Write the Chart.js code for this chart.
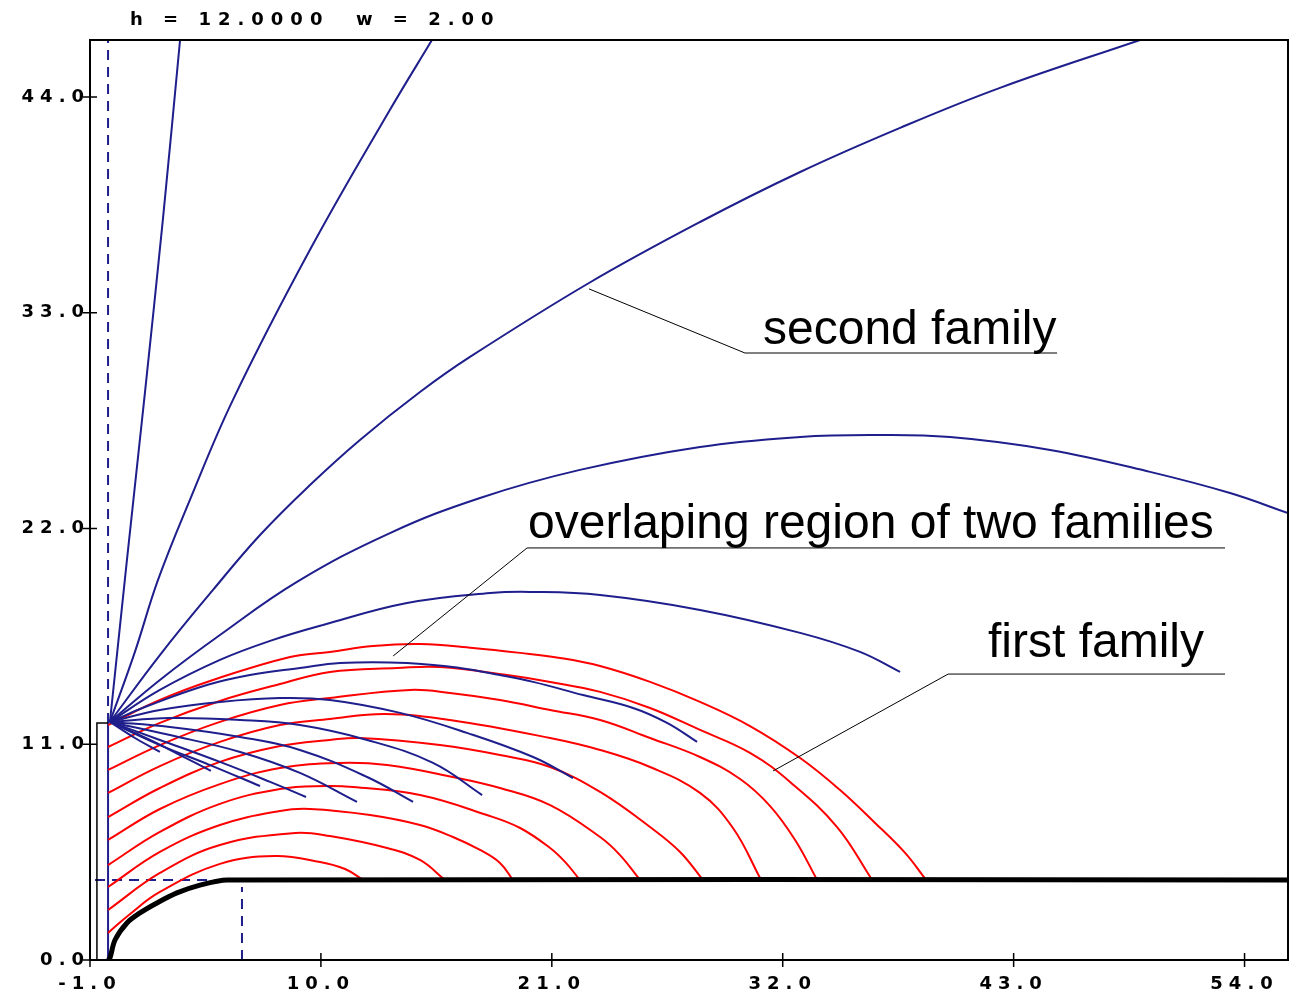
<!DOCTYPE html>
<html>
<head>
<meta charset="utf-8">
<title>Two families of trajectories</title>
<script src="https://cdn.jsdelivr.net/npm/chart.js@4.4.1/dist/chart.umd.min.js"></script>
<style>
  html, body { margin: 0; padding: 0; background: #fff; }
  canvas { display: block; }
</style>
</head>
<body>
<canvas id="plot" width="1291" height="999"></canvas>
<script>
// axis ranges and ticks
const xRange = [-1, 56.07];
const yRange = [0, 46.91];
const xTicks = [-1, 10, 21, 32, 43, 54];
const yTicks = [0, 11, 22, 33, 44];

const towerHeight = 12.0;
const stepWidth = 2.0;

// tower outline and guide lines
const tower = [[-0.67, 0], [-0.67, 12.09], [-0.14, 12.09]];
const wallLine = [[-0.14, 0], [-0.14, 12.09]];
const wallDashed = [[-0.14, 12.09], [-0.14, 46.91]];
const levelDashed = [[-0.76, 4.08], [5.6, 4.08]];
const levelFoot = [[6.24, 0], [6.24, 3.72]];

// ground profile (thick black)
const ground = [[-0.14, 0], [-0.05, 0.1], [0.19, 1.02], [0.76, 1.89], [1.38, 2.40], [2.19, 2.91],
  [3.14, 3.42], [4.24, 3.82], [5.53, 4.08], [56.07, 4.08]];

// first family (red)
const red1 = [[-0.14, 11.98], [2.33, 13.26], [4.86, 14.28], [8.53, 15.45], [10.43, 15.71], [12.48, 16.01],
  [14.72, 16.11], [17.25, 15.91], [19.49, 15.66], [21.39, 15.40], [23.30, 14.99], [25.68, 14.18],
  [28.06, 13.16], [30.44, 11.93], [32.83, 10.30], [34.73, 8.67], [36.40, 6.99], [37.83, 5.46], [38.83, 4.08]];
const red2 = [[-0.14, 10.86], [2.33, 12.09], [5.19, 13.21], [8.05, 14.07], [10.43, 14.69], [13.63, 14.89],
  [15.67, 14.94], [18.87, 14.53], [20.92, 14.18], [23.30, 13.67], [25.68, 12.85], [28.06, 11.73],
  [30.44, 10.56], [32.35, 9.08], [34.59, 6.78], [36.26, 4.08]];
const red3 = [[-0.14, 9.69], [2.33, 10.96], [5.19, 12.14], [8.05, 13.00], [10.43, 13.36], [14.25, 13.77],
  [16.15, 13.62], [18.53, 13.26], [20.92, 12.75], [23.30, 12.24], [25.68, 11.32], [28.06, 10.35],
  [29.97, 9.23], [31.40, 7.85], [32.59, 6.12], [33.64, 4.08]];
const red4 = [[-0.14, 8.52], [2.33, 9.89], [5.19, 11.12], [8.05, 11.98], [10.43, 12.29], [13.05, 12.54],
  [16.15, 12.24], [20.92, 11.32], [23.30, 10.71], [25.68, 9.84], [28.06, 8.52], [29.63, 6.73], [30.97, 4.08]];
const red5 = [[-0.14, 7.29], [2.33, 8.77], [5.19, 10.10], [8.05, 10.91], [10.43, 11.22], [11.86, 11.32],
  [15.67, 10.96], [18.53, 10.45], [20.92, 9.84], [23.30, 8.57], [25.68, 6.78], [27.11, 5.51], [28.20, 4.08]];
const red6 = [[-0.14, 6.12], [2.33, 7.70], [5.19, 8.97], [8.05, 9.79], [10.91, 10.05], [13.15, 9.94],
  [16.29, 9.33], [18.53, 8.77], [20.92, 7.90], [23.30, 6.27], [24.25, 5.35], [25.20, 4.08]];
const red7 = [[-0.14, 4.84], [2.33, 6.53], [5.19, 7.96], [8.05, 8.72], [10.20, 8.87], [11.53, 8.82],
  [14.72, 8.41], [17.91, 7.39], [19.49, 6.73], [20.92, 5.71], [21.63, 5.00], [22.34, 4.08]];
const red8 = [[-0.14, 3.72], [2.33, 5.51], [5.19, 6.88], [8.05, 7.60], [9.48, 7.70], [12.34, 7.39],
  [14.72, 6.88], [16.29, 6.27], [17.58, 5.61], [18.53, 4.95], [19.15, 4.08]];
const red9 = [[-0.14, 2.55], [2.33, 4.44], [5.19, 5.86], [8.77, 6.48], [10.43, 6.32], [13.15, 5.71],
  [14.72, 5.10], [15.91, 4.08]];
const red10 = [[-0.14, 1.38], [0.91, 2.35], [2.33, 3.47], [5.19, 4.90], [7.81, 5.30], [9.96, 5.00],
  [11.15, 4.64], [12.01, 4.08]];
const firstFamily = [red1, red2, red3, red4, red5, red6, red7, red8, red9, red10];

// second family (blue), all leaving the top of the tower
const blue1 = [[-0.05, 12.14], [0.76, 20.40], [1.62, 28.96], [2.48, 37.84], [3.29, 46.91]];
const blue2 = [[-0.05, 12.14], [1.14, 15.71], [2.24, 19.38], [3.76, 23.46], [5.81, 28.56], [9.48, 36.21],
  [13.29, 43.35], [15.29, 46.91]];
const blue3 = [[-0.05, 12.14], [2.33, 15.55], [4.86, 18.87], [7.10, 21.67], [9.48, 24.22], [11.86, 26.52],
  [14.72, 28.96], [17.10, 30.75], [22.77, 34.52], [28.06, 37.63], [32.83, 40.18],
  [37.59, 42.43], [42.35, 44.47], [49.02, 46.91]];
const blue4 = [[-0.05, 12.14], [2.33, 14.28], [5.19, 16.57], [8.86, 19.28], [13.29, 21.77], [17.58, 23.56],
  [22.34, 24.99], [28.06, 26.16], [32.83, 26.67], [36.16, 26.77], [39.97, 26.67], [44.74, 26.01],
  [49.50, 24.89], [53.31, 23.81], [56.07, 22.79]];
const blue5 = [[-0.05, 12.14], [2.33, 13.77], [5.19, 15.30], [7.58, 16.27], [10.10, 17.08], [14.10, 18.20],
  [18.06, 18.71], [19.96, 18.77], [23.30, 18.61], [28.06, 17.85], [32.83, 16.68], [35.68, 15.71], [37.59, 14.69]];
const blue6 = [[-0.05, 12.14], [1.86, 13.00], [4.57, 14.02], [6.62, 14.53], [9.00, 14.89], [10.91, 15.15],
  [14.10, 15.15], [16.63, 14.89], [18.53, 14.53], [20.11, 14.18], [22.49, 13.51], [24.87, 12.85],
  [26.49, 12.09], [27.92, 11.12]];
const blue7 = [[-0.05, 12.14], [2.33, 12.75], [5.19, 13.16], [8.05, 13.36], [10.43, 13.26], [13.77, 12.60],
  [16.96, 11.58], [20.11, 10.35], [22.01, 9.28]];
const blue8 = [[-0.05, 12.14], [2.81, 12.34], [6.15, 12.24], [9.00, 11.98], [12.20, 11.22], [15.34, 10.05], [17.68, 8.41]];
const blue9 = [[-0.05, 12.14], [2.81, 11.88], [6.15, 11.37], [9.00, 10.71], [12.20, 9.33], [14.39, 8.06]];
const blue10 = [[-0.05, 12.14], [2.81, 11.47], [6.15, 10.61], [9.00, 9.54], [11.72, 8.06]];
const blue11 = [[-0.05, 12.14], [2.33, 11.22], [5.19, 10.10], [7.58, 9.08], [9.29, 8.31]];
const blue12 = [[-0.05, 12.14], [2.33, 10.96], [4.72, 9.94], [7.10, 8.87]];
const blue13 = [[-0.05, 12.14], [1.86, 11.22], [3.29, 10.45], [4.76, 9.64]];
const blue14 = [[-0.05, 12.14], [1.14, 11.32], [2.33, 10.61]];
const secondFamily = [blue1, blue2, blue3, blue4, blue5, blue6, blue7, blue8, blue9, blue10,
  blue11, blue12, blue13, blue14];

// labels with leader lines (data coordinates)
const notes = [
  { text: 'second family', at: [31.06, 31.41], line: [[22.77, 34.22], [30.20, 30.95], [45.07, 30.95]] },
  { text: 'overlaping region of two families', at: [19.87, 21.52], line: [[13.44, 15.50], [19.82, 21.01], [53.07, 21.01]] },
  { text: 'first family', at: [41.78, 15.45], line: [[31.54, 9.64], [39.88, 14.58], [53.07, 14.58]] }
];

const titleText = 'h = ' + towerHeight.toFixed(4) + '  w = ' + stepWidth.toFixed(2);

const RED = '#ff0000';
const BLUE = '#1e1e8c';
const tickFont = { family: 'DejaVu Sans', size: 18, weight: 'bold' };

function line(points, color, width, extra) {
  return Object.assign({
    data: points.map(p => ({ x: p[0], y: p[1] })),
    borderColor: color,
    borderWidth: width,
    pointRadius: 0,
    fill: false,
    tension: 0.4
  }, extra || {});
}

const datasets = [];
datasets.push(line(ground, '#000', 5, { tension: 0.3 }));
datasets.push(line(tower, '#000', 1.5, { tension: 0 }));
secondFamily.forEach(c => datasets.push(line(c, BLUE, 2)));
firstFamily.forEach(c => datasets.push(line(c, RED, 2)));
datasets.push(line(wallLine, BLUE, 2, { tension: 0 }));
datasets.push(line(wallDashed, BLUE, 2, { borderDash: [10, 7], tension: 0 }));
datasets.push(line(levelDashed, BLUE, 2, { borderDash: [10, 7], tension: 0 }));
datasets.push(line(levelFoot, BLUE, 2, { borderDash: [10, 7], tension: 0 }));

// frame, tick crosses, header and the labelled leaders
const decorations = {
  id: 'decorations',
  beforeDraw(chart) { chart.ctx.letterSpacing = '6px'; },
  beforeDatasetsDraw(chart) { chart.ctx.letterSpacing = '0px'; },
  afterDraw(chart) {
    const { ctx, chartArea: a, scales: { x, y } } = chart;
    ctx.save();
    ctx.strokeStyle = '#000';
    ctx.lineWidth = 2;
    ctx.strokeRect(a.left, a.top, a.right - a.left, a.bottom - a.top);

    ctx.lineWidth = 1.5;
    ctx.beginPath();
    xTicks.forEach(v => {
      const px = x.getPixelForValue(v);
      ctx.moveTo(px, a.bottom - 7);
      ctx.lineTo(px, a.bottom + 7);
    });
    yTicks.forEach(v => {
      const py = y.getPixelForValue(v);
      ctx.moveTo(a.left - 7, py);
      ctx.lineTo(a.left + 7, py);
    });
    ctx.stroke();

    ctx.letterSpacing = '7px';
    ctx.font = 'bold 18px "DejaVu Sans"';
    ctx.fillStyle = '#000';
    ctx.textBaseline = 'alphabetic';
    ctx.textAlign = 'left';
    ctx.fillText(titleText, a.left + 40, a.top - 15);

    ctx.letterSpacing = '0px';
    ctx.lineWidth = 1;
    ctx.font = '48px "Liberation Sans", Arial, sans-serif';
    notes.forEach(n => {
      ctx.beginPath();
      n.line.forEach((p, i) => {
        const px = x.getPixelForValue(p[0]);
        const py = y.getPixelForValue(p[1]);
        if (i === 0) ctx.moveTo(px, py); else ctx.lineTo(px, py);
      });
      ctx.stroke();
      ctx.fillText(n.text, x.getPixelForValue(n.at[0]), y.getPixelForValue(n.at[1]));
    });
    ctx.restore();
  }
};

new Chart(document.getElementById('plot'), {
  type: 'line',
  data: { datasets: datasets },
  options: {
    responsive: false,
    animation: false,
    events: [],
    layout: { padding: { top: 40, right: 3, left: 0, bottom: 0 } },
    plugins: { legend: { display: false }, tooltip: { enabled: false }, title: { display: false } },
    scales: {
      x: {
        type: 'linear',
        min: xRange[0],
        max: xRange[1],
        afterFit: s => { s.height = 39; },
        afterBuildTicks: s => { s.ticks = xTicks.map(v => ({ value: v })); },
        grid: { display: false, drawTicks: false },
        border: { display: false },
        ticks: { callback: v => v.toFixed(1), font: tickFont, color: '#000', padding: 14, maxRotation: 0, autoSkip: false }
      },
      y: {
        type: 'linear',
        min: yRange[0],
        max: yRange[1],
        afterFit: s => { s.width = 90; },
        afterBuildTicks: s => { s.ticks = yTicks.map(v => ({ value: v })); },
        grid: { display: false, drawTicks: false },
        border: { display: false },
        ticks: { callback: v => v.toFixed(1), font: tickFont, color: '#000', padding: 0, autoSkip: false }
      }
    }
  },
  plugins: [decorations]
});
</script>
</body>
</html>
